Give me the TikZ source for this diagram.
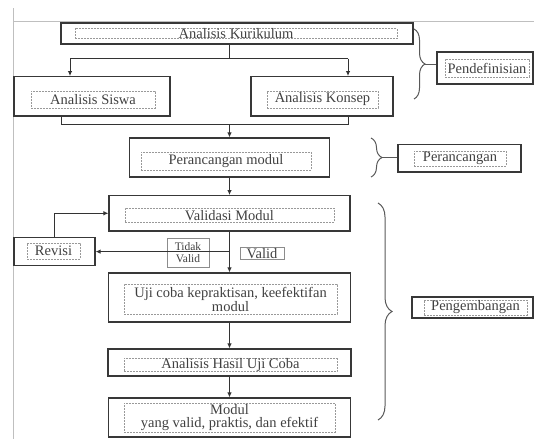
\documentclass[tikz,border=0pt]{standalone}
\usepackage{fontspec}
\setmainfont{Liberation Serif}
\usetikzlibrary{arrows.meta,decorations.pathreplacing}
\begin{document}
\begin{tikzpicture}[x=1pt,y=-1pt]
\tikzset{
 outer/.style={draw=black!78, line width=1.1pt, inner sep=0pt, rectangle},
 inner/.style={draw=black!40, line width=0.6pt, dash pattern=on 2pt off 1pt, inner sep=0pt, align=center, text=black!75, font=\fontsize{14.5}{14}\selectfont},
 conn/.style={draw=black!80, line width=1pt},
 arr/.style={conn, -{Latex[length=5pt,width=4.5pt]}},
 brc/.style={draw=black!65, line width=1pt, decorate, decoration={brace, amplitude=11pt}},
 lbl/.style={draw=black!45, line width=0.6pt, inner sep=1pt, align=center, text=black!75, font=\fontsize{14.5}{14}\selectfont},
 pageframe/.style={draw=black!25, line width=0.8pt}
}
\useasboundingbox (0,0) rectangle (534,439);
\draw[pageframe] (13,8) -- (13,439);
\draw[pageframe] (13,21) -- (534,21);

% left column
\node[outer, minimum width=352pt, minimum height=21pt] (AK) at (237,33.5) {};
\node[inner, minimum width=322pt, minimum height=9pt] (AKt) at (236,33.5) {Analisis Kurikulum};
\node[outer, minimum width=156pt, minimum height=39.4pt] (S) at (92,96.3) {};
\node[inner, minimum width=124pt, minimum height=17pt] (St) at (93,99.5) {Analisis Siswa};
\node[outer, minimum width=142pt, minimum height=39.4pt] (K) at (322,96.3) {};
\node[inner, minimum width=111pt, minimum height=17pt] (Kt) at (322.5,99.5) {Analisis Konsep};
\node[outer, minimum width=200pt, minimum height=39pt] (P) at (229.5,157.5) {};
\node[inner, minimum width=170pt, minimum height=18pt] (Pt) at (226,161) {Perancangan modul};
\node[outer, minimum width=241pt, minimum height=35.4pt] (V) at (229.5,213.3) {};
\node[inner, minimum width=209pt, minimum height=14pt] (Vt) at (229.5,215.3) {Validasi Modul};
\node[outer, minimum width=81pt, minimum height=28pt] (R) at (54.5,251.6) {};
\node[inner, minimum width=53pt, minimum height=16pt] (Rt) at (53.5,251) {Revisi};
\node[lbl, font=\fontsize{11.5}{12}\selectfont, inner sep=0.5pt, minimum width=42pt, minimum height=28.5pt] (TV) at (188,252.7) {Tidak\\Valid};
\node[lbl, minimum width=44pt, minimum height=12pt] (VL) at (262,253.6) {Valid};
\node[outer, minimum width=242pt, minimum height=49pt] (U) at (229.5,297.5) {};
\node[inner, minimum width=213pt, minimum height=30pt] (Ut) at (230.5,299) {Uji coba kepraktisan, keefektifan\\modul};
\node[outer, minimum width=243pt, minimum height=27pt] (H) at (229.5,362.5) {};
\node[inner, minimum width=213pt, minimum height=12pt] (Ht) at (230.5,365) {Analisis Hasil Uji Coba};
\node[outer, minimum width=242pt, minimum height=39pt] (M) at (229.5,417.5) {};
\node[inner, font=\fontsize{14.5}{13.5}\selectfont, inner sep=1pt, minimum width=211pt, minimum height=27pt] (Mt) at (229.5,417.5) {Modul\\yang valid, praktis, dan efektif};

% right column
\node[outer, minimum width=96pt, minimum height=32pt] (PD) at (485,68) {};
\node[inner, minimum width=84pt, minimum height=18pt] (PDt) at (487,68) {Pendefinisian};
\node[outer, minimum width=123pt, minimum height=27.5pt] (PR) at (459.5,158.2) {};
\node[inner, minimum width=92pt, minimum height=15pt] (PRt) at (460,158.5) {Perancangan};
\node[outer, minimum width=121pt, minimum height=21pt] (PG) at (472.5,307.5) {};
\node[inner, minimum width=103pt, minimum height=15pt] (PGt) at (475.5,307.5) {Pengembangan};

% braces
\draw[brc] (414,29) -- (414,99);
\coordinate (b1) at (425,64);
\draw[conn, draw=black!65] (b1) -- (b1 -| PD.west);
\draw[brc] (371,138) -- (371,177);
\coordinate (b2) at (382,157.5);
\draw[conn, draw=black!65] (b2) -- (b2 -| PR.west);
\draw[brc, decoration={brace, amplitude=14pt}] (378,203) -- (378,420);

% connectors
\coordinate (jl) at (70,58.6);
\coordinate (jr) at (348,58.6);
\draw[conn] (AK.south -| P.north) -- (P.north |- jl);
\draw[conn] (jl) -- (jr);
\draw[arr] (jl) -- (jl |- S.north);
\draw[arr] (jr) -- (jr |- K.north);
\coordinate (kl) at (61,124);
\coordinate (kr) at (348,124);
\draw[conn] (kl |- S.south) -- (kl) -- (kr) -- (kr |- K.south);
\draw[arr] (P.north |- kl) -- (P.north);
\draw[arr] (P.south) -- (V.north);
\draw[arr] (R.north) |- (V.west);
\draw[arr] (V.south |- R.east) -- (R.east);
\draw[arr] (V.south) -- (U.north);
\draw[arr] (U.south) -- (H.north);
\draw[arr] (H.south) -- (M.north);
\end{tikzpicture}
\end{document}
